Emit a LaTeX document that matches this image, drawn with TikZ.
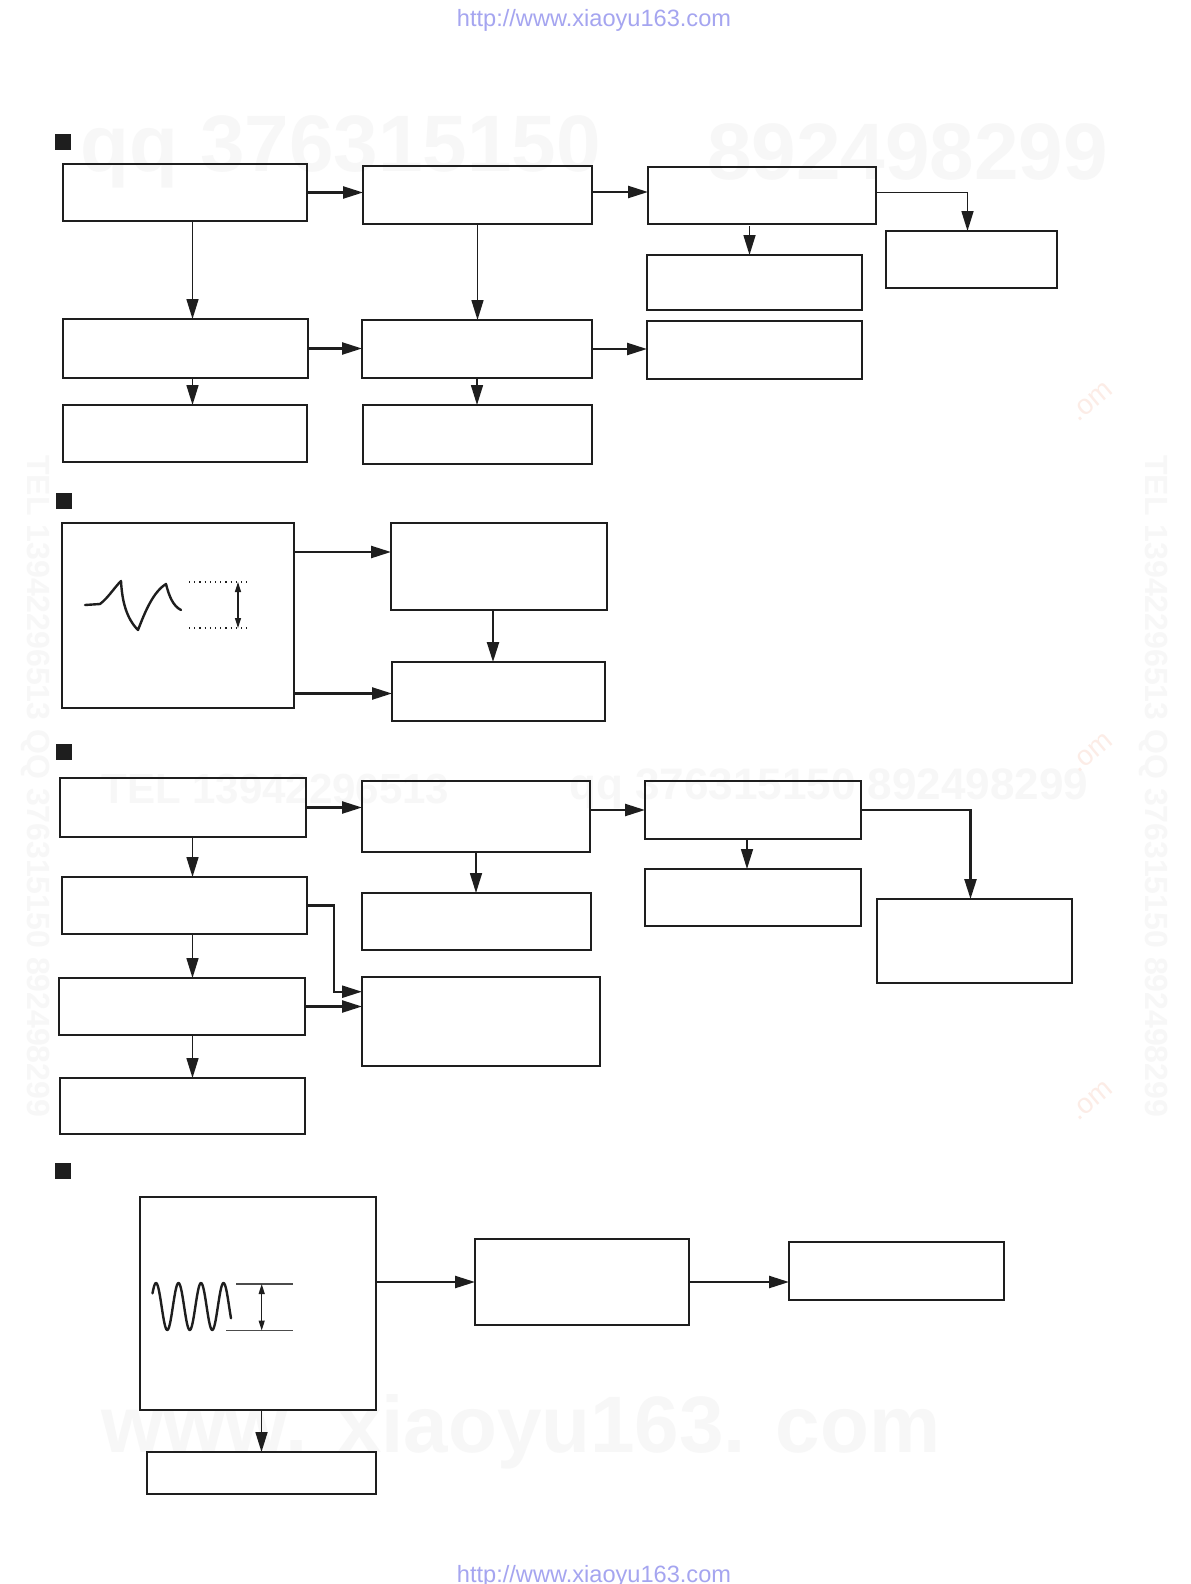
\documentclass[tikz,border=0pt]{standalone}
\usepackage{fontspec}
\setmainfont{Liberation Sans}
\usetikzlibrary{arrows.meta}
\definecolor{urlblue}{RGB}{165,165,240}
\definecolor{wm}{RGB}{247,247,247}
\definecolor{wmpink}{RGB}{252,236,230}
\definecolor{ink}{RGB}{30,30,30}
\newcommand\mkbox[5]{\node[blk, minimum width={(#4-#2)*0.5pt}, minimum height={(#5-#3)*0.5pt}] (#1) at ({(#2+#4)/2},{(#3+#5)/2}) {};}
\begin{document}
\begin{tikzpicture}[x=0.5pt,y=-0.5pt,
  blk/.style={draw=ink, line width=1.2pt, inner sep=0pt, outer sep=0pt, rectangle},
  arr/.style={draw=ink, line width=1.2pt, -{Triangle[length=10pt,width=6pt]}},
  varr/.style={draw=ink, line width=0.8pt, -{Triangle[length=10pt,width=6pt]}},
  bul/.style={fill=ink, draw=none, inner sep=0pt, minimum width=8pt, minimum height=8pt},
  wave/.style={draw=ink, line width=1.2pt, line join=round, line cap=round},
  wmk/.style={text=wm, inner sep=0pt},
  dbl/.style={draw=ink, line width=0.6pt, {Triangle[length=5pt,width=3pt]}-{Triangle[length=5pt,width=3pt]}}
]
\useasboundingbox (0,0) rectangle (1190,1584);
\fill[white] (0,0) rectangle (1190,1584);

% faint watermarks
\node[wmk, anchor=west, font=\bfseries\fontsize{40pt}{40pt}\selectfont] (wm1) at (80,152) {qq 376315150};
\node[wmk, anchor=west, font=\bfseries\fontsize{40pt}{40pt}\selectfont] (wm2) at (707,152) {892498299};
\node[wmk, anchor=west, font=\bfseries\fontsize{21pt}{21pt}\selectfont] (wm3) at (101,789) {TEL 13942296513};
\node[wmk, anchor=west, font=\bfseries\fontsize{22pt}{22pt}\selectfont] (wm4) at (569,789) {qq 376315150 892498299};
\node[wmk, anchor=west, font=\bfseries\fontsize{40pt}{40pt}\selectfont] (wm5) at (101,1432) {www. xiaoyu163. com};
\node[wmk, anchor=west, rotate=-90, font=\bfseries\fontsize{16pt}{16pt}\selectfont] (wm6) at (36,455) {TEL 13942296513 QQ 376315150 892498299};
\node[wmk, anchor=west, rotate=-90, font=\bfseries\fontsize{16pt}{16pt}\selectfont] (wm7) at (1154,455) {TEL 13942296513 QQ 376315150 892498299};
\node[text=wmpink, rotate=40, inner sep=0pt, font=\fontsize{14pt}{14pt}\selectfont] (wm8) at (1092,402) {.om};
\node[text=wmpink, rotate=40, inner sep=0pt, font=\fontsize{14pt}{14pt}\selectfont] (wm9) at (1092,753) {.om};
\node[text=wmpink, rotate=40, inner sep=0pt, font=\fontsize{14pt}{14pt}\selectfont] (wm10) at (1092,1101) {.om};

% header / footer
\node[text=urlblue, font=\fontsize{11.8pt}{12pt}\selectfont] (hdr) at (594,20) {http://www.xiaoyu163.com};
\node[text=urlblue, font=\fontsize{11.8pt}{12pt}\selectfont] (ftr) at (594,1576) {http://www.xiaoyu163.com};

% ---------- section 1 ----------
\node[bul] (s1) at (63,142) {};
\mkbox{A1}{63}{164}{307}{221}
\mkbox{A2}{363}{166}{592}{224}
\mkbox{A3}{648}{167}{876}{224}
\mkbox{A4}{886}{231}{1057}{288}
\mkbox{A5}{647}{255}{862}{310}
\mkbox{B1}{63}{319}{308}{378}
\mkbox{B2}{362}{320}{592}{378}
\mkbox{B3}{647}{321}{862}{379}
\mkbox{C1}{63}{405}{307}{462}
\mkbox{C2}{363}{405}{592}{464}
\draw[arr] (A1.east) -- (A1.east -| A2.west);
\draw[arr] ([yshift=1.5pt]A2.east) -- ([yshift=1.5pt]A2.east -| A3.west);
\draw[varr] ([yshift=1.5pt]A3.east) -| ([xshift=-2pt]A4.north);
\draw[varr] ([xshift=-2.5pt,yshift=-1pt]A3.south -| A5.north) -- ([xshift=-2.5pt]A5.north);
\draw[varr] ([xshift=3.75pt]A1.south) -- ([xshift=3.75pt]A1.south |- B1.north);
\draw[varr] (A2.south) -- (A2.south |- B2.north);
\draw[arr] (B1.east) -- (B1.east -| B2.west);
\draw[arr] (B2.east) -- (B2.east -| B3.west);
\draw[varr] ([xshift=3.5pt]B1.south) -- ([xshift=3.5pt]B1.south |- C1.north);
\draw[varr] (B2.south) -- (B2.south |- C2.north);

% ---------- section 2 ----------
\node[bul] (s2) at (63.5,501) {};
\mkbox{D}{62}{523}{294}{708}
\mkbox{E}{391}{523}{607}{610}
\mkbox{F}{392}{662}{605}{721}
\draw[arr] ([yshift=-14.5pt]D.north east) -- ([yshift=-14.5pt]D.north east -| E.west);
\draw[arr] ([yshift=7.25pt]D.south east) -- ([yshift=7.25pt]D.south east -| F.west);
\draw[arr] ([xshift=-3pt]E.south) -- ([xshift=-3pt]E.south |- F.north);
\draw[wave] (85,605) -- (100,604) .. controls (108,598) and (114,588) .. (121,581)
  .. controls (122,600) and (126,618) .. (138,630)
  .. controls (145,612) and (153,592) .. (166,584)
  .. controls (169,596) and (173,606) .. (181,610);
\draw[ink, dotted, line width=0.6pt] (189,582) -- (251,582);
\draw[ink, dotted, line width=0.6pt] (189,628) -- (251,628);
\draw[dbl] (238,582) -- (238,628);

% ---------- section 3 ----------
\node[bul] (s3) at (63.5,751.5) {};
\mkbox{G1}{60}{778}{306}{837}
\mkbox{G2}{362}{781}{590}{852}
\mkbox{G3}{645}{781}{861}{839}
\mkbox{G4}{645}{869}{861}{926}
\mkbox{G5}{877}{899}{1072}{983}
\mkbox{H1}{62}{877}{307}{934}
\mkbox{H2}{362}{893}{591}{950}
\mkbox{I1}{59}{978}{305}{1035}
\mkbox{I2}{362}{977}{600}{1066}
\mkbox{J1}{60}{1078}{305}{1134}
\draw[arr] (G1.east) -- (G1.east -| G2.west);
\draw[arr] (G2.east |- G3.west) -- (G3.west);
\draw[arr] (G3.east) -| ([xshift=-2pt]G5.north);
\draw[varr] ([xshift=-3pt]G3.south) -- ([xshift=-3pt]G3.south |- G4.north);
\draw[varr] ([xshift=4.75pt]G1.south) -- ([xshift=4.75pt]G1.south |- H1.north);
\draw[varr] (G2.south) -- (G2.south |- H2.north);
\draw[varr] ([xshift=4pt]H1.south) -- ([xshift=4pt]H1.south |- I1.north);
\draw[varr] ([xshift=5.25pt]I1.south) -- ([xshift=5.25pt]I1.south |- J1.north);
\draw[arr] (H1.east) -- ++(26.8,0) |- ([yshift=14.9pt]I2.west);
\draw[arr] (I1.east) -- (I1.east -| I2.west);

% ---------- section 4 ----------
\node[bul] (s4) at (63,1170.5) {};
\mkbox{K}{140}{1197}{376}{1410}
\mkbox{L}{475}{1239}{689}{1325}
\mkbox{M}{789}{1242}{1004}{1300}
\mkbox{N}{147}{1452}{376}{1494}
\draw[arr] (K.east |- L.west) -- (L.west);
\draw[arr] (L.east) -- (L.east -| M.west);
\draw[varr] (N.north |- K.south) -- (N.north);
\begin{scope}[shift={(156,1306.5)}]
\draw[wave] plot[domain=-3.5:75, samples=120, smooth] (\x, {-23.5*cos(16*\x)});
\end{scope}
\draw[black!70, line width=0.6pt] (236,1284) -- (293,1284);
\draw[black!70, line width=0.6pt] (226,1330.5) -- (293,1330.5);
\draw[dbl] (261.7,1284) -- (261.7,1330.5);
\end{tikzpicture}
\end{document}
